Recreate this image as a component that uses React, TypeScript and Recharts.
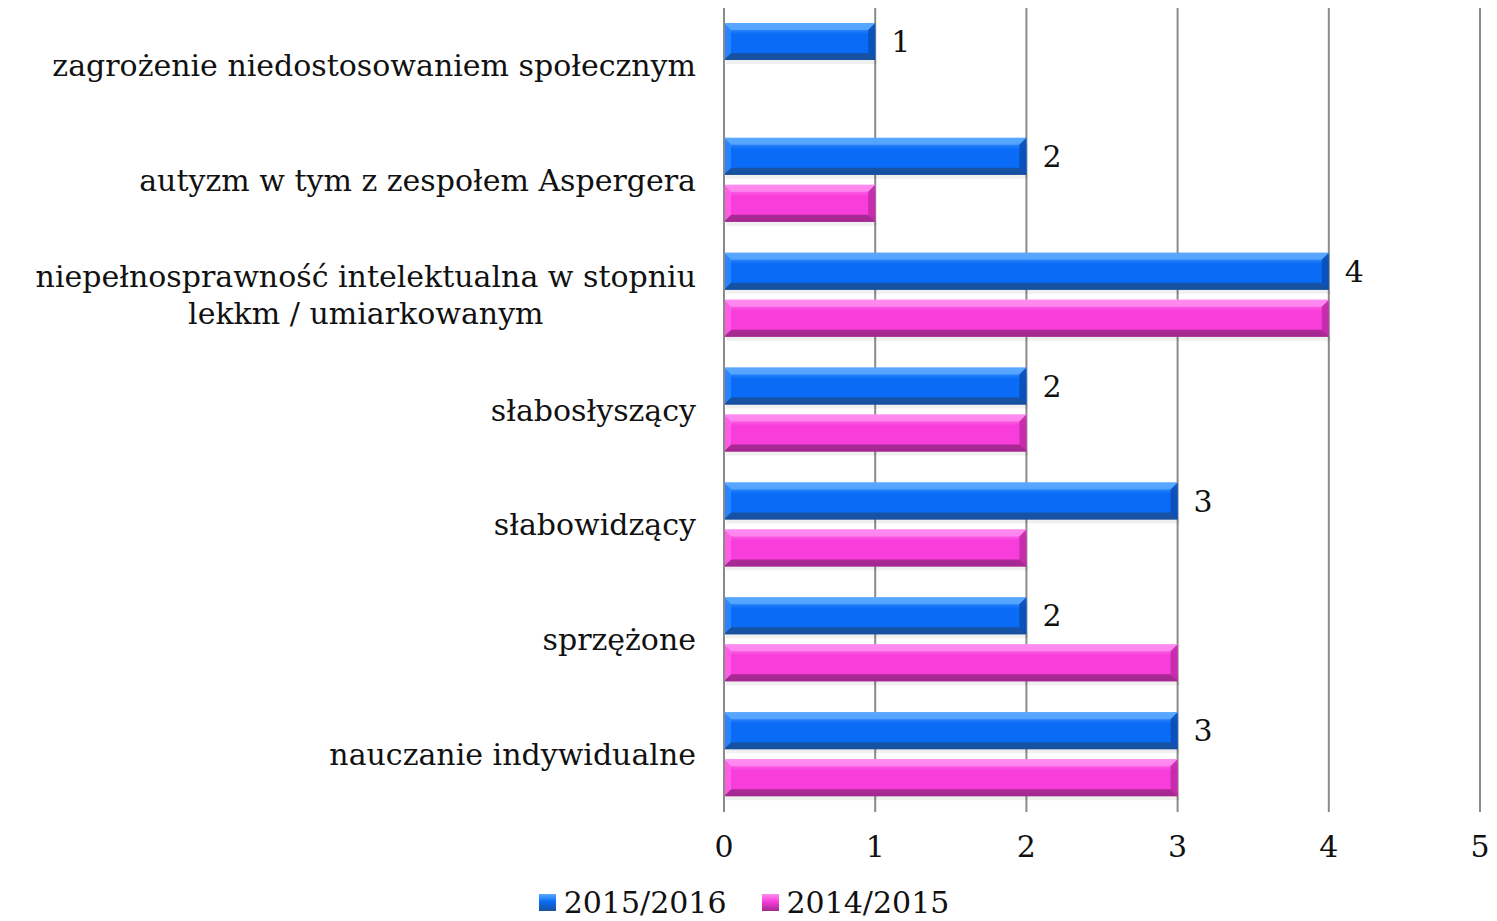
import React from "react";
import { BarChart, Bar, XAxis, YAxis, CartesianGrid, Legend, LabelList } from "recharts";

const categories = [
  "zagrożenie niedostosowaniem społecznym",
  "autyzm w tym z zespołem Aspergera",
  "niepełnosprawność intelektualna w stopniu\nlekkm / umiarkowanym",
  "słabosłyszący",
  "słabowidzący",
  "sprzężone",
  "nauczanie indywidualne",
];
const series2015_2016: (number | null)[] = [1, 2, 4, 2, 3, 2, 3];
const series2014_2015: (number | null)[] = [null, 1, 4, 2, 2, 3, 3];
const xTicks = [0, 1, 2, 3, 4, 5];
const seriesNames = ["2015/2016", "2014/2015"];

const data = categories.map((c, i) => ({
  name: c,
  a: series2015_2016[i],
  b: series2014_2015[i],
}));

const FONT = "'DejaVu Serif', serif";
const FS = 30;

const palettes: Record<string, { top: string; mid: string; bot: string; left: string; right: string; main: string }> = {
  blue: { top: "#5aa8ff", mid: "#0a6cf6", bot: "#17509e", left: "#2c86ff", right: "#0b4fb5", main: "#0a6cf6" },
  pink: { top: "#ff8cf0", mid: "#f83ddb", bot: "#a3288f", left: "#ff5fe3", right: "#c22aa8", main: "#f83ddb" },
};

const makeShape = (key: string) => (props: any) => {
  const { x, y, width, height } = props;
  if (!width || width <= 0) return <g />;
  const p = palettes[key];
  const b = Math.min(7, height / 3, width / 3);
  return (
    <g>
      <rect x={x + 2} y={y + height} width={width} height={4} fill="#000" opacity={0.06} />
      <rect x={x} y={y} width={width} height={height} fill={`url(#grad-${key})`} />
      <polygon points={`${x},${y} ${x + width},${y} ${x + width - b},${y + b} ${x + b},${y + b}`} fill={p.top} opacity={0.85} />
      <polygon points={`${x},${y + height} ${x + width},${y + height} ${x + width - b},${y + height - b} ${x + b},${y + height - b}`} fill={p.bot} opacity={0.9} />
      <polygon points={`${x},${y} ${x + b},${y + b} ${x + b},${y + height - b} ${x},${y + height}`} fill={p.left} opacity={0.9} />
      <polygon points={`${x + width},${y} ${x + width - b},${y + b} ${x + width - b},${y + height - b} ${x + width},${y + height}`} fill={p.right} opacity={0.9} />
    </g>
  );
};

let measureCtx: CanvasRenderingContext2D | null = null;
const measure = (t: string) => {
  if (!measureCtx) {
    const c = document.createElement("canvas");
    measureCtx = c.getContext("2d");
  }
  if (!measureCtx) return t.length * FS * 0.6;
  measureCtx.font = `${FS}px ${FONT}`;
  return measureCtx.measureText(t).width;
};

const YTick = (props: any) => {
  const { x, y, payload } = props;
  const lines: string[] = String(payload.value).split("\n");
  const lh = 37;
  if (lines.length === 1) {
    return (
      <text x={x} y={y} dy="0.35em" textAnchor="end" fontFamily={FONT} fontSize={FS} fill="#111">
        {lines[0]}
      </text>
    );
  }
  const maxW = Math.max(...lines.map(measure));
  const cx = x - maxW / 2;
  const start = y - ((lines.length - 1) * lh) / 2;
  return (
    <g>
      {lines.map((l, i) => (
        <text key={i} x={cx} y={start + i * lh} dy="0.35em" textAnchor="middle" fontFamily={FONT} fontSize={FS} fill="#111">
          {l}
        </text>
      ))}
    </g>
  );
};

const LegendContent = () => (
  <div style={{ height: 40, display: "flex", justifyContent: "center", alignItems: "center", fontFamily: FONT, fontSize: FS, color: "#111", paddingTop: 2, boxSizing: "border-box" }}>
    {seriesNames.map((n, i) => {
      const p = palettes[i === 0 ? "blue" : "pink"];
      return (
        <div key={n} style={{ display: "flex", alignItems: "center", marginRight: i === 0 ? 35 : 0 }}>
          <span
            style={{
              display: "inline-block",
              width: 17,
              height: 17,
              marginRight: 8,
              background: `linear-gradient(to bottom, ${p.top}, ${p.mid} 45%, ${p.bot})`,
            }}
          />
          <span>{n}</span>
        </div>
      );
    })}
  </div>
);

export default function App() {
  return (
    <div style={{ width: 1489, height: 913 }}>
      <BarChart
        width={1489}
        height={913}
        data={data}
        layout="vertical"
        margin={{ top: 0, right: 17, bottom: 0, left: 0 }}
        barSize={37}
        barGap={10}
      >
        <defs>
          {Object.keys(palettes).map((k) => (
            <linearGradient key={k} id={`grad-${k}`} x1="0" y1="0" x2="0" y2="1">
              <stop offset="0%" stopColor={palettes[k].top} />
              <stop offset="30%" stopColor={palettes[k].main} />
              <stop offset="80%" stopColor={palettes[k].mid} />
              <stop offset="100%" stopColor={palettes[k].bot} />
            </linearGradient>
          ))}
        </defs>
        <CartesianGrid horizontal={false} vertical={true} stroke="#8a8a8a" strokeWidth={2} />
        <XAxis
          type="number"
          domain={[0, 5]}
          ticks={xTicks}
          axisLine={false}
          tickLine={false}
          tickSize={0}
          tickMargin={24}
          height={69}
          tick={{ fontFamily: FONT, fontSize: FS, fill: "#111" }}
        />
        <YAxis
          type="category"
          dataKey="name"
          width={716}
          axisLine={{ stroke: "#8a8a8a", strokeWidth: 2 }}
          tickLine={false}
          tickSize={0}
          tickMargin={28}
          tick={<YTick />}
          interval={0}
        />
        <Legend verticalAlign="bottom" content={<LegendContent />} />
        <Bar dataKey="a" name={seriesNames[0]} isAnimationActive={false} shape={makeShape("blue")}>
          <LabelList dataKey="a" position="right" offset={16} style={{ fontFamily: FONT, fontSize: FS, fill: "#111" }} />
        </Bar>
        <Bar dataKey="b" name={seriesNames[1]} isAnimationActive={false} shape={makeShape("pink")} />
      </BarChart>
    </div>
  );
}
